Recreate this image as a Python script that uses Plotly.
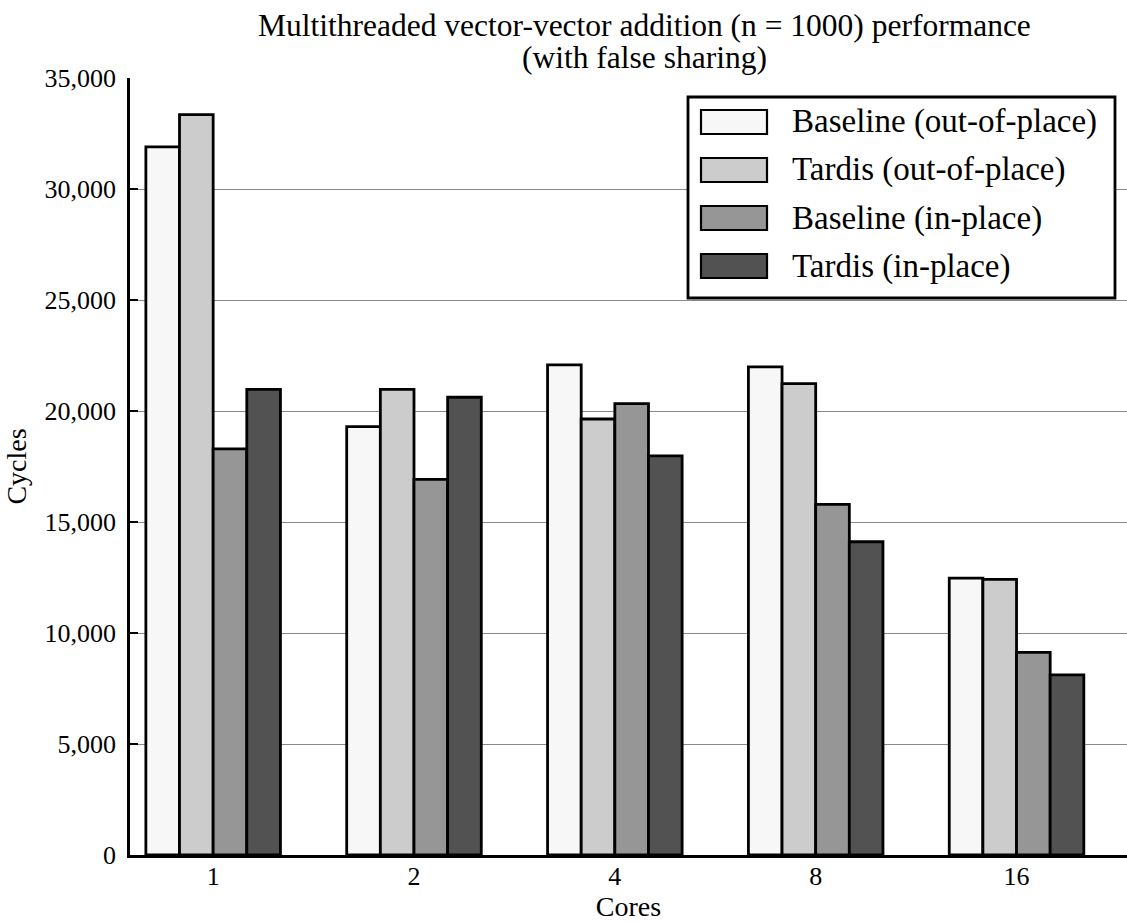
import plotly.graph_objects as go

cores = ["1", "2", "4", "8", "16"]
series_names = ["Baseline (out-of-place)", "Tardis (out-of-place)", "Baseline (in-place)", "Tardis (in-place)"]
baseline_out = [31900, 19300, 22080, 21990, 12470]
tardis_out = [33350, 20970, 19640, 21230, 12420]
baseline_in = [18290, 16920, 20330, 15790, 9130]
tardis_in = [20970, 20620, 17980, 14110, 8110]
y_ticks = [0, 5000, 10000, 15000, 20000, 25000, 30000, 35000]
title_lines = ["Multithreaded vector-vector addition (n = 1000) performance", "(with false sharing)"]

colors = ["#f7f7f7", "#cccccc", "#969696", "#525252"]
FONT = "Liberation Serif"

W, H = 1127, 922
L, R, T, B = 130, 1127, 78, 855

fig = go.Figure()
xs = list(range(len(cores)))
for name, vals, col in zip(series_names, [baseline_out, tardis_out, baseline_in, tardis_in], colors):
    fig.add_trace(go.Bar(x=xs, y=vals, name=name, marker=dict(color=col, line=dict(color="black", width=2.8)),
                         showlegend=False))

def px(x):
    return (x - L) / (R - L)

def py(y):
    return (B - y) / (B - T)

shapes = []
annotations = []
# legend box
shapes.append(dict(type="rect", xref="paper", yref="paper", x0=px(688), x1=px(1115), y0=py(298), y1=py(97),
                   line=dict(color="black", width=2.8), fillcolor="white", layer="above"))
row_y = [122, 170, 218, 266]
for name, col, ry in zip(series_names, colors, row_y):
    shapes.append(dict(type="rect", xref="paper", yref="paper", x0=px(701), x1=px(767), y0=py(ry + 12), y1=py(ry - 12),
                       line=dict(color="black", width=2.2), fillcolor=col, layer="above"))
    annotations.append(dict(xref="paper", yref="paper", x=px(790), y=py(ry), text=name, showarrow=False,
                            xanchor="left", yanchor="middle", font=dict(family=FONT, size=33, color="black")))

# title lines
for line, ty in zip(title_lines, [26, 58]):
    annotations.append(dict(xref="paper", yref="paper", x=px(644), y=py(ty), text=line, showarrow=False,
                            xanchor="center", yanchor="middle", font=dict(family=FONT, size=31.5, color="black")))

fig.update_layout(
    width=W, height=H,
    margin=dict(l=L, r=W - R, t=T, b=H - B, pad=0),
    paper_bgcolor="white", plot_bgcolor="white",
    barmode="group", bargap=0.33, bargroupgap=0,
    font=dict(family=FONT, size=26, color="black"),
    shapes=shapes, annotations=annotations,
    xaxis=dict(tickmode="array", tickvals=xs, ticktext=cores, range=[-0.414, 4.55], automargin=False,
               showline=True, linecolor="black", linewidth=2.8, ticks="", showgrid=False, zeroline=False,
               ticklabelstandoff=-4,
               title=dict(text="Cores", font=dict(family=FONT, size=28), standoff=12),
               tickfont=dict(family=FONT, size=26)),
    yaxis=dict(range=[0, 35000], tickvals=y_ticks, tickformat=",d", automargin=False,
               showline=True, linecolor="black", linewidth=2.8,
               ticks="inside", ticklen=8, tickwidth=1.5, tickcolor="black",
               showgrid=True, gridcolor="#8a8a8a", gridwidth=1.2, zeroline=False,
               ticklabelstandoff=6,
               title=dict(text="Cycles", font=dict(family=FONT, size=28), standoff=10),
               tickfont=dict(family=FONT, size=26)),
)

fig.write_html("out.html", config={"displayModeBar": False},
               post_script="document.body.style.margin='0';document.body.style.overflow='hidden';")
